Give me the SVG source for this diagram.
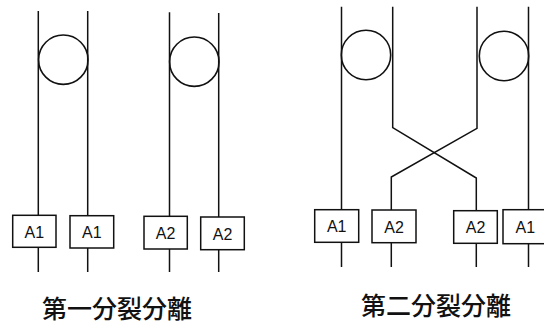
<svg xmlns="http://www.w3.org/2000/svg" width="544" height="326" viewBox="0 0 544 326">
<style>
.ln{fill:none;stroke:#111;stroke-width:1.5;stroke-linejoin:miter}
.cir{fill:none;stroke:#111;stroke-width:1.6}
.box rect{fill:#fff;stroke:#111;stroke-width:1.5}
.box text{font-family:"Liberation Sans",Arial,sans-serif;font-size:16px;fill:#111;text-anchor:middle}
.lbl{font-family:"Noto Sans CJK JP","Noto Sans CJK TC",sans-serif;font-size:25px;font-weight:500;fill:#111;text-anchor:middle}
</style>
<rect width="544" height="326" fill="#fff"/>
<g id="connectors">
<path class="ln" d="M38.3 11V272"/>
<path class="ln" d="M87.7 11V272"/>
<path class="ln" d="M169.5 12.3V272"/>
<path class="ln" d="M218.7 13V272"/>
<path class="ln" d="M341.5 6.7V267"/>
<path class="ln" d="M392.7 6.7V127.7L476.3 178V267"/>
<path class="ln" d="M477 6.7V128.3L391.3 177V267"/>
<path class="ln" d="M528.5 6.7V267"/>
</g>
<g id="circle-1"><circle class="cir" cx="63.3" cy="59.7" r="24.7"/></g>
<g id="circle-2"><circle class="cir" cx="194.3" cy="61.7" r="24.7"/></g>
<g id="circle-3"><circle class="cir" cx="366" cy="55" r="24.7"/></g>
<g id="circle-4"><circle class="cir" cx="504" cy="56" r="24.7"/></g>
<g id="box-l1" class="box"><rect x="12.7" y="215.3" width="43.3" height="32"/><text x="34.3" y="237.8">A1</text></g>
<g id="box-l2" class="box"><rect x="70" y="215.7" width="43.7" height="32.3"/><text x="91.8" y="238.2">A1</text></g>
<g id="box-l3" class="box"><rect x="144" y="216.3" width="43.3" height="32.7"/><text x="165.6" y="239">A2</text></g>
<g id="box-l4" class="box"><rect x="200.7" y="217" width="43.6" height="32.7"/><text x="222.5" y="239.7">A2</text></g>
<g id="box-r1" class="box"><rect x="314.7" y="209.7" width="44" height="32.6"/><text x="336.7" y="232.4">A1</text></g>
<g id="box-r2" class="box"><rect x="372" y="210" width="44" height="32.7"/><text x="394" y="232.7">A2</text></g>
<g id="box-r3" class="box"><rect x="453.7" y="210.7" width="43.6" height="32.6"/><text x="475.5" y="233.4">A2</text></g>
<g id="box-r4" class="box"><rect x="503" y="209.7" width="44" height="34"/><text x="525.3" y="233">A1</text></g>
<text class="lbl" x="117" y="318.3">第一分裂分離</text>
<text class="lbl" x="436" y="315">第二分裂分離</text>
</svg>
